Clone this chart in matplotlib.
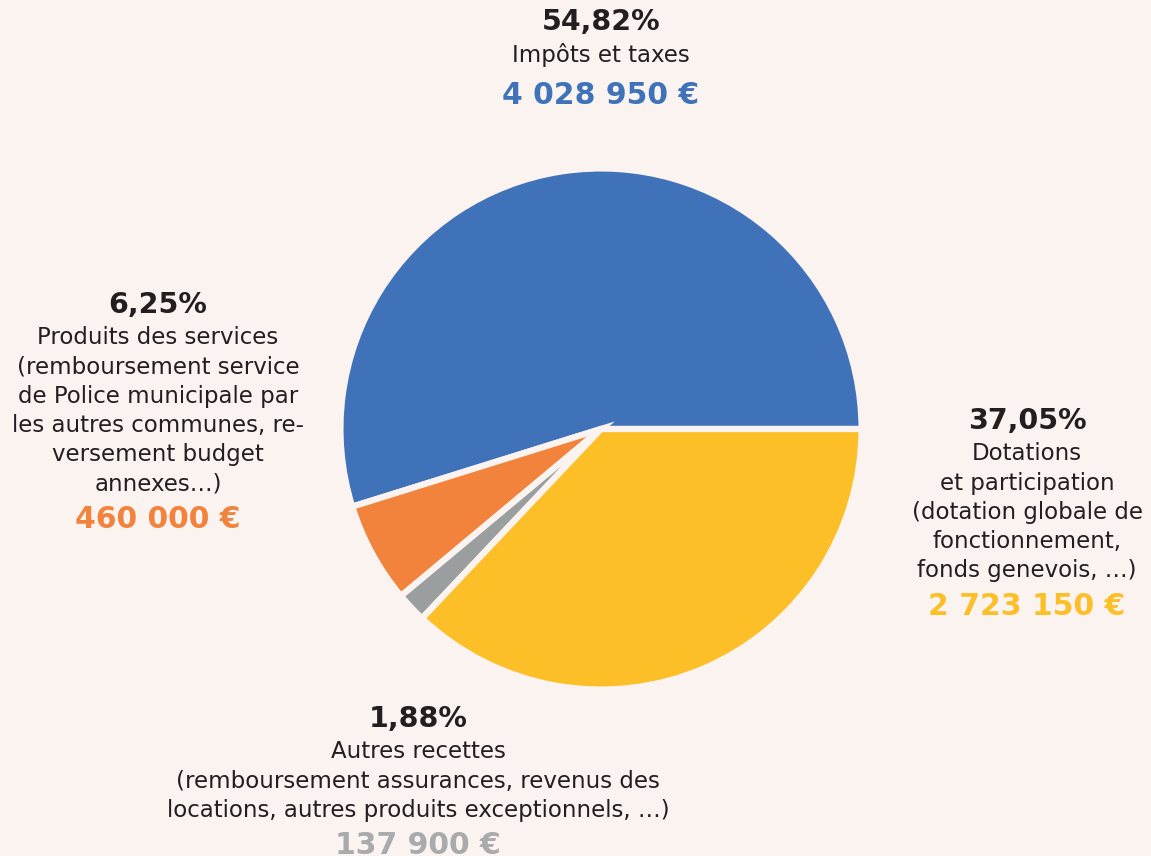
import matplotlib
matplotlib.use('Agg')
import matplotlib.pyplot as plt

# Données (recettes de fonctionnement)
categories = ['Impôts et taxes', 'Produits des services', 'Autres recettes', 'Dotations et participation']
montants = [4028950, 460000, 137900, 2723150]
pourcentages = ['54,82%', '6,25%', '1,88%', '37,05%']
montants_txt = ['4 028 950 €', '460 000 €', '137 900 €', '2 723 150 €']
couleurs = ['#3F72B8', '#F1833D', '#9B9E9F', '#FDBF27']
couleurs_montant = ['#3F72B8', '#F1833D', '#A8AAAB', '#FDBF27']
descriptions = [
    ['Impôts et taxes'],
    ['Produits des services', '(remboursement service', 'de Police municipale par',
     'les autres communes, re-', 'versement budget', 'annexes…)'],
    ['Autres recettes', '(remboursement assurances, revenus des',
     'locations, autres produits exceptionnels, …)'],
    ['Dotations', 'et participation', '(dotation globale de',
     'fonctionnement,', 'fonds genevois, …)'],
]

BG = '#FBF3F0'
TXT = '#231F20'
W, H = 1151, 856

fig = plt.figure(figsize=(W / 100, H / 100), dpi=100, facecolor=BG)

# camembert : centre (601, 429) px, rayon 258 px
cx, cy, r = 601, 429, 258
ax = fig.add_axes([(cx - r) / W, 1 - (cy + r) / H, 2 * r / W, 2 * r / H])
ax.set_facecolor(BG)
ax.pie(montants, colors=couleurs, startangle=0, counterclock=True, radius=1.01,
       wedgeprops=dict(edgecolor=BG, linewidth=4.5))
ax.set_xlim(-1, 1)
ax.set_ylim(-1, 1)
ax.axis('off')


def bloc(x, y_pct, idx, pas=29.2):
    """Bloc de libellé : pourcentage, description, montant (coord. en px)."""
    fig.text(x / W, 1 - y_pct / H, pourcentages[idx], ha='center', va='center',
             fontsize=20.5, fontweight='bold', color=TXT)
    y = y_pct + 33
    for ligne in descriptions[idx]:
        fig.text(x / W, 1 - y / H, ligne, ha='center', va='center',
                 fontsize=16.5, color=TXT)
        y += pas
    y += 6
    fig.text(x / W, 1 - y / H, montants_txt[idx], ha='center', va='center',
             fontsize=21.5, fontweight='bold', color=couleurs_montant[idx])


bloc(601, 22, 0, pas=34)
bloc(158, 305, 1)
bloc(418, 719, 2)
bloc(1027, 421, 3)

fig.savefig('out.png', dpi=100, facecolor=BG)
plt.close()
